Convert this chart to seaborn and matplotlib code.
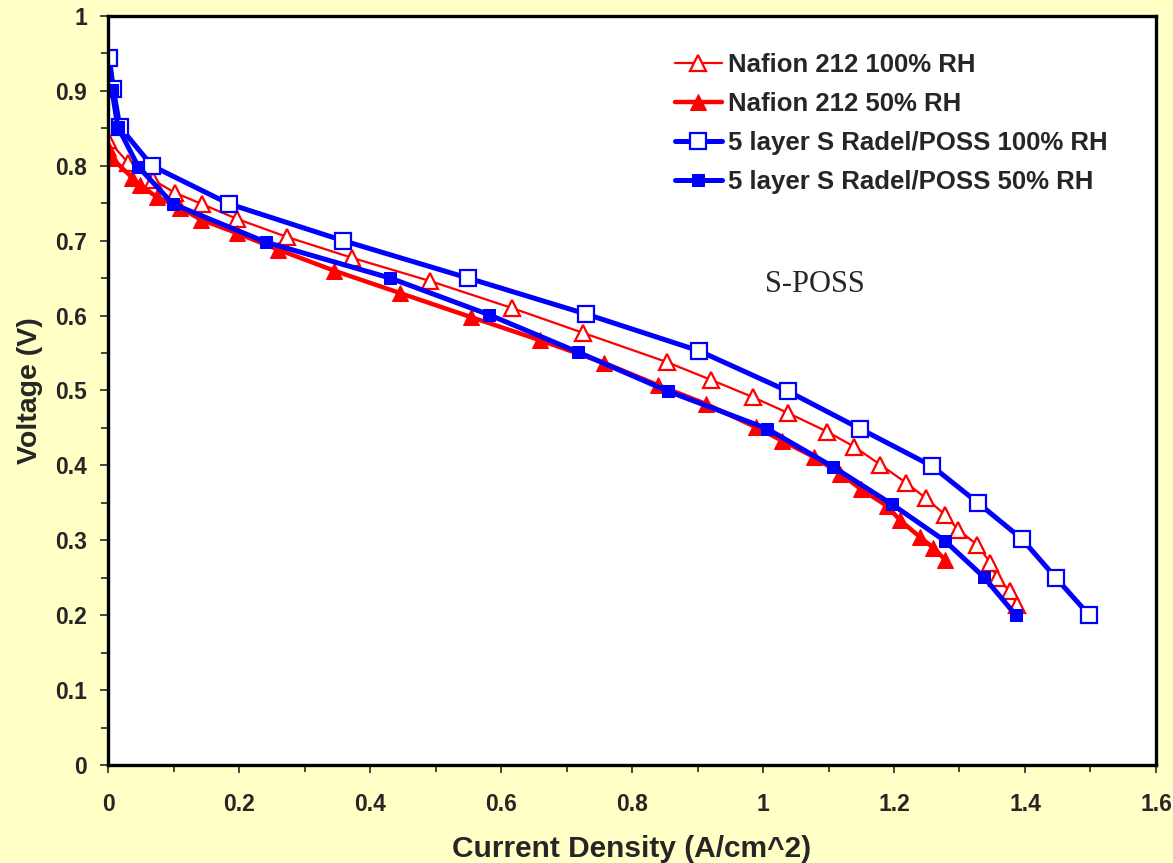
import matplotlib
matplotlib.use("Agg")
import matplotlib.pyplot as plt
import seaborn as sns
import numpy as np
from matplotlib.ticker import MultipleLocator, FuncFormatter

# Nafion 212 100% RH
naf100_x = [0.000, 0.031, 0.069, 0.102, 0.143, 0.197, 0.273, 0.373, 0.492, 0.617, 0.725, 0.853,
            0.921, 0.985, 1.038, 1.098, 1.139, 1.179, 1.218, 1.249, 1.278, 1.298, 1.327, 1.347,
            1.357, 1.377, 1.388]
naf100_y = [0.834, 0.804, 0.781, 0.764, 0.749, 0.729, 0.705, 0.677, 0.646, 0.610, 0.577, 0.538,
            0.514, 0.491, 0.470, 0.445, 0.425, 0.401, 0.377, 0.356, 0.334, 0.314, 0.294, 0.270,
            0.250, 0.232, 0.214]

# Nafion 212 50% RH
naf50_x = [0.000, 0.006, 0.037, 0.049, 0.075, 0.110, 0.142, 0.197, 0.260, 0.345, 0.446, 0.554,
           0.660, 0.757, 0.840, 0.913, 0.989, 1.029, 1.078, 1.118, 1.150, 1.189, 1.209, 1.240,
           1.260, 1.278]
naf50_y = [0.824, 0.810, 0.784, 0.774, 0.758, 0.744, 0.728, 0.710, 0.688, 0.660, 0.630, 0.598,
           0.567, 0.537, 0.507, 0.482, 0.451, 0.433, 0.411, 0.389, 0.368, 0.346, 0.327, 0.304,
           0.290, 0.274]

# 5 layer S Radel/POSS 100% RH
sr100_x = [0.002, 0.008, 0.018, 0.067, 0.185, 0.359, 0.550, 0.730, 0.902, 1.038, 1.148, 1.258,
           1.328, 1.395, 1.447, 1.498]
sr100_y = [0.944, 0.903, 0.852, 0.800, 0.749, 0.700, 0.650, 0.602, 0.553, 0.499, 0.449, 0.399,
           0.350, 0.302, 0.250, 0.200]

# 5 layer S Radel/POSS 50% RH
sr50_x = [0.006, 0.015, 0.046, 0.099, 0.241, 0.431, 0.582, 0.718, 0.855, 1.006, 1.107, 1.197,
          1.278, 1.337, 1.386]
sr50_y = [0.901, 0.852, 0.799, 0.749, 0.698, 0.650, 0.601, 0.551, 0.499, 0.449, 0.398, 0.348,
          0.299, 0.251, 0.200]

sns.set_style("ticks")
plt.rcParams["font.family"] = ["Liberation Sans", "DejaVu Sans"]

fig = plt.figure(figsize=(11.73, 8.63), dpi=100)
fig.patch.set_facecolor("#FFFFC6")
ax = fig.add_axes([0.0921, 0.1136, 0.8934, 0.8679])
ax.set_facecolor("white")

#series
sns.lineplot(x=naf100_x, y=naf100_y, sort=False, color="#FF0000", linewidth=1.6,
             marker="^", markersize=11, markerfacecolor="white", markeredgecolor="#FF0000",
             markeredgewidth=1.6, label="Nafion 212 100% RH", ax=ax)
sns.lineplot(x=naf50_x, y=naf50_y, sort=False, color="#FF0000", linewidth=3.2,
             marker="^", markersize=12, markerfacecolor="#FF0000", markeredgecolor="#FF0000",
             label="Nafion 212 50% RH", ax=ax)
sns.lineplot(x=sr100_x, y=sr100_y, sort=False, color="#0000FF", linewidth=3.6,
             marker="s", markersize=11, markerfacecolor="white", markeredgecolor="#0000FF",
             markeredgewidth=1.6, label="5 layer S Radel/POSS 100% RH", ax=ax)
sns.lineplot(x=sr50_x, y=sr50_y, sort=False, color="#0000FF", linewidth=3.6,
             marker="s", markersize=8, markerfacecolor="#0000FF", markeredgecolor="#0000FF",
             label="5 layer S Radel/POSS 50% RH", ax=ax)

ax.set_xlim(0, 1.6)
ax.set_ylim(0, 1.0)
fmt = FuncFormatter(lambda v, p: f"{v:g}")
ax.xaxis.set_major_locator(MultipleLocator(0.2))
ax.xaxis.set_minor_locator(MultipleLocator(0.1))
ax.yaxis.set_major_locator(MultipleLocator(0.1))
ax.yaxis.set_minor_locator(MultipleLocator(0.05))
ax.xaxis.set_major_formatter(fmt)
ax.yaxis.set_major_formatter(fmt)
ax.tick_params(axis="both", which="major", direction="out", length=6, width=1.2,
               labelsize=16.5)
ax.tick_params(axis="x", which="major", pad=14)
ax.tick_params(axis="y", which="major", pad=9)
ax.tick_params(axis="both", which="minor", direction="out", length=5, width=1.2)
for lab in ax.get_xticklabels() + ax.get_yticklabels():
    lab.set_fontweight("bold")
for sp in ax.spines.values():
    sp.set_visible(True)
    sp.set_linewidth(2.4)
    sp.set_color("black")

ax.set_xlabel("Current Density (A/cm^2)", fontsize=21.5, fontweight="bold", labelpad=14)
ax.set_ylabel("Voltage (V)", fontsize=20.5, fontweight="bold", labelpad=9)

ax.text(1.079, 0.641, "S-POSS", fontsize=22, family="Liberation Serif",
        ha="center", va="center")

leg = ax.legend(loc="upper left", bbox_to_anchor=(0.541, 0.950), frameon=False,
                borderpad=0, borderaxespad=0,
                prop={"size": 18.5, "weight": "bold"}, handlelength=1.83, handletextpad=0.23,
                labelspacing=0.58)

fig.savefig("out.png", dpi=100, facecolor=fig.get_facecolor())
